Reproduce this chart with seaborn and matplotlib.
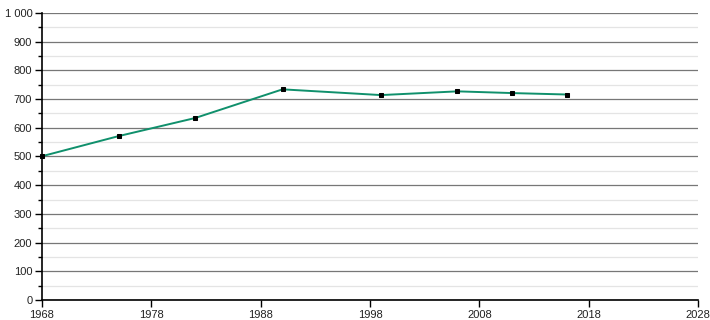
import matplotlib
matplotlib.use("Agg")
import matplotlib.pyplot as plt
import matplotlib.ticker as mticker
import seaborn as sns
import pandas as pd

years = [1968, 1975, 1982, 1990, 1999, 2006, 2011, 2016]
population = [501, 571, 634, 734, 714, 727, 721, 716]
x_ticks = [1968, 1978, 1988, 1998, 2008, 2018, 2028]

df = pd.DataFrame({"year": years, "pop": population})

sns.set_style("white")
plt.rcParams["font.family"] = ["Liberation Sans", "DejaVu Sans"]

fig = plt.figure(figsize=(7.1, 3.2), dpi=100)
ax = fig.add_axes([42 / 710, 20 / 320, 656 / 710, 287 / 320])

sns.lineplot(data=df, x="year", y="pop", ax=ax, color="#10906c", linewidth=1.4,
             marker="s", markersize=3.2, markerfacecolor="black", markeredgecolor="black",
             zorder=3, clip_on=False)

ax.set_xlim(1968, 2028)
ax.set_ylim(0, 1000)
ax.xaxis.set_major_locator(mticker.FixedLocator(x_ticks))
ax.yaxis.set_major_locator(mticker.MultipleLocator(100))
ax.yaxis.set_minor_locator(mticker.MultipleLocator(50))
ax.yaxis.set_major_formatter(mticker.FuncFormatter(
    lambda v, p: f"{int(v):,}".replace(",", " ")))
ax.xaxis.set_major_formatter(mticker.FuncFormatter(lambda v, p: f"{int(v)}"))

ax.grid(which="major", axis="y", color="#777777", linewidth=0.9)
ax.grid(which="minor", axis="y", color="#e4e4e4", linewidth=0.9)
ax.set_axisbelow(True)

for s in ["top", "right"]:
    ax.spines[s].set_visible(False)
for s in ["left", "bottom"]:
    ax.spines[s].set_color("black")
    ax.spines[s].set_linewidth(1.2)

ax.tick_params(axis="both", which="major", direction="out", length=5, width=1,
               color="black", labelsize=8, labelcolor="#222222", pad=2,
               bottom=True, left=True)
ax.tick_params(axis="y", which="minor", direction="out", length=3, width=1,
               color="black", left=True)
ax.set_xlabel("")
ax.set_ylabel("")

fig.savefig("out.png", dpi=100)
